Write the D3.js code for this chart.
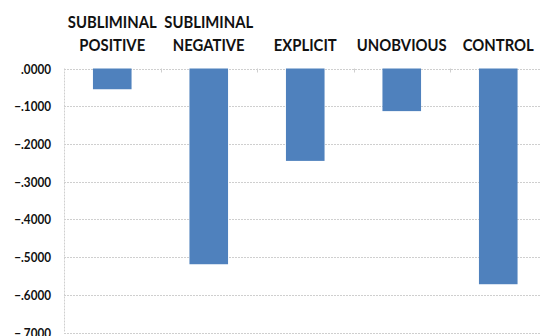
<!DOCTYPE html>
<html>
<head>
<meta charset="utf-8">
<script src="https://cdn.jsdelivr.net/npm/d3@7"></script>
<style>
  html, body { margin: 0; padding: 0; background: #fff; }
  svg { display: block; }
</style>
</head>
<body>
<svg id="chart" width="541" height="336"></svg>
<script>
// Mean change per condition
const categories = [
  ["SUBLIMINAL", "POSITIVE"],
  ["SUBLIMINAL", "NEGATIVE"],
  ["EXPLICIT"],
  ["UNOBVIOUS"],
  ["CONTROL"]
];
const values = [-0.055, -0.519, -0.245, -0.113, -0.572];
const yTicks = [0, -0.1, -0.2, -0.3, -0.4, -0.5, -0.6, -0.7];

const svg = d3.select("#chart");
const margin = { left: 64, top: 68.5 };
const plotW = 482.5, plotH = 264;
const fontFamily = "Lato, 'Open Sans', sans-serif";
const squeeze = 0.9; // narrower glyphs for a condensed look

const x = d3.scaleBand()
  .domain(d3.range(categories.length))
  .range([margin.left, margin.left + plotW])
  .paddingInner(0.6).paddingOuter(0.3);

const y = d3.scaleLinear()
  .domain([0, -0.7])
  .range([margin.top, margin.top + plotH]);

const fmt = v => v === 0 ? ".0000" : d3.format(".4f")(v).replace("0.", ".");

// Gridlines
svg.append("g")
  .selectAll("line")
  .data(yTicks)
  .join("line")
  .attr("x1", margin.left)
  .attr("x2", margin.left + plotW)
  .attr("y1", d => Math.round(y(d)) + 0.5)
  .attr("y2", d => Math.round(y(d)) + 0.5)
  .attr("stroke", "#cfcfcf")
  .attr("stroke-width", 1)
  .attr("stroke-dasharray", "2,1");

// Vertical axis line
svg.append("line")
  .attr("x1", margin.left + 0.5).attr("x2", margin.left + 0.5)
  .attr("y1", margin.top).attr("y2", margin.top + plotH)
  .attr("stroke", "#cfcfcf").attr("stroke-dasharray", "2,1");

// Category tick marks along the zero line
const step = plotW / categories.length;
svg.append("g")
  .selectAll("line")
  .data(d3.range(1, categories.length))
  .join("line")
  .attr("x1", i => Math.round(margin.left + i * step) + 0.5)
  .attr("x2", i => Math.round(margin.left + i * step) + 0.5)
  .attr("y1", y(0))
  .attr("y2", y(0) + 4)
  .attr("stroke", "#cfcfcf");

// Y axis labels
const yAxis = d3.axisLeft(y).tickValues(yTicks).tickFormat(fmt).tickSize(0).tickPadding(0);
const ya = svg.append("g")
  .attr("transform", `translate(51,0)`)
  .call(yAxis);
ya.select(".domain").remove();
ya.selectAll(".tick").each(function() {
  const t = d3.select(this);
  const tr = t.attr("transform");
  t.attr("transform", tr + ` scale(${squeeze},1)`);
});
ya.selectAll("text")
  .attr("font-family", fontFamily)
  .attr("font-weight", "bold")
  .attr("font-size", 13)
  .attr("fill", "#111")
  .attr("dy", "0.35em");

// Bars
svg.append("g")
  .selectAll("rect")
  .data(values)
  .join("rect")
  .attr("x", (d, i) => x(i))
  .attr("width", x.bandwidth())
  .attr("y", y(0))
  .attr("height", d => y(d) - y(0))
  .attr("fill", "#4f81bd");

// Category labels above the plot
svg.append("g")
  .selectAll("text")
  .data(categories)
  .join("text")
  .attr("text-anchor", "middle")
  .attr("font-family", fontFamily)
  .attr("font-weight", "bold")
  .attr("font-size", 16.5)
  .attr("fill", "#111")
  .attr("transform", (d, i) => `translate(${x(i) + x.bandwidth() / 2},0) scale(${squeeze},1)`)
  .each(function(d) {
    const t = d3.select(this);
    const startY = d.length === 2 ? 28.5 : 51;
    d.forEach((s, k) => {
      t.append("tspan")
        .attr("x", 0)
        .attr("y", startY + k * 22.5)
        .text(s);
    });
  });
</script>
</body>
</html>
